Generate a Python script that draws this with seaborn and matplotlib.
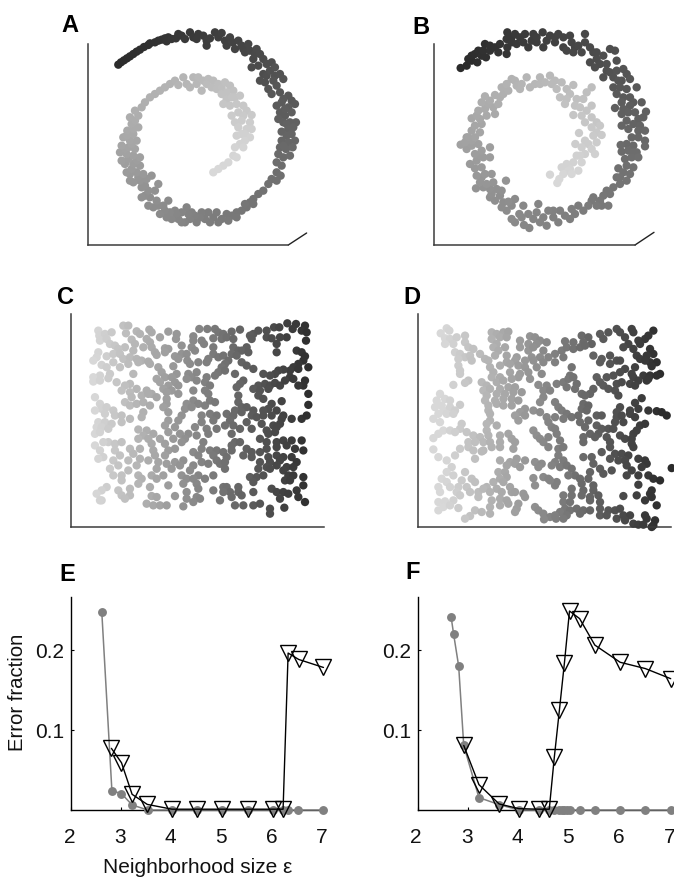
import matplotlib
matplotlib.use("Agg")
import matplotlib.pyplot as plt
from matplotlib.colors import LinearSegmentedColormap
from matplotlib.transforms import ScaledTranslation
import seaborn as sns

# spiral points, listed from the dark outer end to the light inner end
points_a = [(205,167),(213,160),(222,154),(231,148),(240,142),(250,135),(260,128),(270,122),(282,114),(295,108),(300,103),(315,100),(325,95),(335,92),(345,88),(355,85),(350,97),(365,90),(378,88),(385,75),(395,80),(405,90),(420,70),(430,85),(440,90),(445,75),(460,80),(470,95),(470,110),(480,88),(495,70),(505,85),(515,72),(525,95),(530,110),(540,85),(548,100),(555,120),(565,95),(575,110),(580,120),(585,130),(595,105),(600,125),(610,150),(615,135),(620,120),(630,135),(640,150),(605,175),(625,170),(640,195),(650,165),(665,160),(650,200),(630,215),(645,220),(660,185),(675,175),(675,200),(690,195),(700,210),(655,240),(670,215),(680,230),(690,250),(665,255),(715,260),(725,275),(735,285),(700,270),(680,290),(695,280),(715,295),(690,310),(705,320),(705,300),(725,310),(685,330),(700,340),(720,340),(738,340),(710,345),(715,360),(730,355),(695,368),(710,380),(725,375),(695,395),(715,400),(735,395),(690,415),(708,420),(700,410),(728,415),(685,435),(700,445),(720,440),(680,460),(695,470),(680,490),(692,500),(665,510),(680,515),(655,525),(640,545),(625,555),(610,570),(600,580),(610,585),(590,595),(585,585),(575,605),(560,610),(560,625),(545,620),(530,615),(535,635),(515,630),(505,640),(500,610),(490,625),(480,640),(475,610),(465,630),(455,610),(450,625),(440,640),(435,620),(425,610),(420,630),(415,615),(405,640),(410,595),(395,610),(395,640),(385,630),(380,615),(375,605),(365,630),(360,610),(350,625),(345,605),(330,615),(355,575),(340,590),(325,590),(310,595),(295,590),(320,575),(300,565),(285,560),(275,565),(315,545),(295,545),(285,530),(275,535),(325,525),(305,500),(290,510),(270,515),(265,505),(250,520),(240,515),(280,495),(260,490),(240,495),(230,490),(245,480),(270,470),(250,465),(225,465),(260,455),(235,450),(215,455),(270,445),(250,440),(230,435),(210,430),(225,420),(255,420),(235,415),(215,410),(245,405),(260,395),(240,395),(220,385),(230,380),(250,375),(232,365),(250,360),(265,355),(245,345),(255,335),(240,325),(265,320),(255,305),(275,295),(285,280),(300,265),(315,255),(330,245),(345,235),(360,225),(375,215),(385,228),(400,205),(410,225),(430,205),(420,235),(440,225),(455,245),(445,205),(460,215),(475,210),(470,225),(490,215),(485,235),(500,240),(505,225),(515,235),(525,220),(540,230),(550,245),(530,250),(515,255),(530,270),(545,265),(555,265),(570,260),(520,285),(540,290),(560,285),(580,290),(590,305),(565,310),(605,318),(580,320),(545,320),(555,340),(575,335),(600,340),(565,355),(590,360),(605,360),(560,380),(575,375),(585,375),(600,385),(585,395),(570,405),(555,415),(580,415),(550,440),(560,445),(535,460),(520,470),(505,480),(490,490)]

points_b = [(182,177),(200,170),(205,150),(215,155),(215,140),(232,160),(225,135),(235,125),(245,140),(258,145),(255,105),(250,125),(270,125),(270,110),(285,115),(295,130),(300,105),(320,135),(322,115),(322,70),(320,90),(335,85),(335,100),(345,75),(350,105),(360,85),(370,100),(375,75),(385,115),(395,95),(400,75),(410,100),(410,85),(428,70),(430,115),(440,95),(450,80),(465,100),(465,85),(475,75),(490,85),(490,115),(510,80),(515,100),(525,115),(500,125),(520,130),(535,110),(555,75),(555,100),(545,130),(570,115),(580,130),(590,130),(570,160),(590,150),(600,165),(585,175),(610,140),(630,120),(645,125),(650,155),(620,165),(620,185),(630,190),(610,205),(640,205),(650,185),(670,180),(680,195),(665,215),(655,215),(690,210),(640,235),(660,235),(680,240),(710,235),(650,255),(670,265),(690,265),(700,280),(725,280),(690,290),(665,280),(645,297),(670,300),(665,315),(685,310),(705,310),(738,308),(730,325),(715,330),(680,335),(700,345),(720,350),(665,350),(685,360),(715,365),(735,365),(695,385),(715,385),(735,395),(680,405),(700,410),(735,412),(662,408),(665,428),(685,425),(710,430),(700,430),(675,450),(695,445),(715,445),(655,478),(680,470),(700,475),(670,490),(690,495),(650,505),(660,505),(680,515),(660,525),(640,535),(620,545),(630,555),(610,560),(600,575),(605,590),(580,565),(575,575),(590,590),(625,590),(565,590),(550,605),(535,590),(525,615),(515,600),(510,630),(495,620),(480,605),(475,640),(460,625),(460,605),(445,605),(440,650),(430,625),(420,640),(415,585),(410,610),(400,630),(388,657),(372,648),(385,615),(370,590),(365,625),(358,615),(345,640),(335,630),(345,570),(335,590),(320,605),(305,595),(310,580),(325,578),(300,560),(285,575),(270,565),(275,555),(290,540),(305,545),(270,540),(250,535),(228,538),(318,515),(280,520),(260,525),(240,520),(245,505),(275,495),(255,495),(230,500),(225,478),(245,475),(210,465),(230,455),(250,445),(270,445),(240,440),(225,435),(245,425),(270,415),(200,420),(215,410),(235,405),(182,407),(195,400),(215,395),(200,385),(205,385),(225,385),(215,365),(240,370),(225,350),(245,345),(215,328),(240,330),(230,320),(260,320),(285,315),(235,305),(255,300),(280,295),(265,285),(245,280),(270,275),(295,285),(255,262),(285,258),(300,265),(310,255),(305,235),(325,245),(335,210),(320,225),(345,215),(350,230),(360,240),(365,225),(380,205),(390,235),(405,225),(420,205),(420,225),(435,220),(450,200),(455,225),(465,215),(485,220),(470,240),(500,240),(520,228),(510,255),(575,235),(560,250),(480,265),(500,270),(530,270),(550,270),(495,285),(525,290),(540,295),(560,305),(575,290),(520,318),(545,320),(575,325),(590,340),(555,340),(575,355),(600,350),(590,370),(605,378),(580,380),(537,372),(555,395),(590,400),(565,405),(526,405),(545,415),(575,420),(555,435),(585,435),(530,440),(540,440),(520,460),(545,460),(500,465),(485,475),(510,480),(505,485),(535,485),(450,497),(490,495),(515,495),(478,510),(472,522)]

points_c = [(145,155),(148,170),(165,165),(185,160),(220,140),(235,140),(228,163),(260,157),(270,165),(298,152),(305,160),(355,158),(380,165),(448,150),(430,172),(472,150),(495,150),(505,160),(520,165),(545,158),(570,152),(610,165),(625,155),(650,155),(672,145),(688,145),(712,133),(738,135),(765,140),(728,150),(755,155),(770,160),(710,175),
    (150,185),(170,180),(180,195),(195,200),(245,182),(255,195),(290,180),(300,190),(330,175),(378,180),(430,185),(455,185),(462,195),(395,200),(490,178),(515,180),(530,175),(550,180),(600,170),(605,180),(650,175),(665,178),(690,175),(768,185),(680,195),(590,205),(490,205),(280,205),(225,205),(205,210),(345,208),(355,210),(305,205),
    (145,220),(140,235),(130,245),(170,232),(190,225),(210,225),(220,240),(240,235),(260,240),(250,215),(315,220),(320,228),(345,220),(375,232),(395,225),(410,225),(425,205),(435,215),(490,225),(505,235),(520,230),(550,205),(565,215),(575,215),(595,220),(545,225),(560,230),(475,240),(445,250),(412,245),(385,240),(740,215),(755,220),(680,220),(765,232),(760,245),(275,245),(295,248),(235,255),
    (155,258),(170,265),(210,265),(190,250),(265,250),(300,255),(325,265),(370,262),(420,255),(470,250),(535,245),(525,255),(575,250),(590,260),(515,265),(505,280),(525,275),(495,290),(610,270),(745,255),(730,265),(745,270),(720,275),(775,265),(700,272),(685,275),(675,285),(660,290),(640,285),(180,285),(150,290),(130,295),(130,308),(150,305),(175,298),(250,285),(335,280),(380,285),(415,285),(425,295),(440,280),(470,295),(555,285),
    (200,310),(240,315),(320,300),(345,295),(365,295),(375,310),(355,320),(385,320),(410,300),(440,305),(465,310),(480,320),(465,335),(330,310),(340,330),(225,320),(260,330),(215,335),(240,340),(290,335),(305,345),(365,335),(350,340),(385,345),(430,335),(475,345),(580,305),(570,315),(560,325),(625,320),(645,315),(660,320),(675,312),(690,320),(610,330),(630,335),(655,330),(625,350),(720,295),(730,300),(705,305),(765,305),(760,320),(775,345),(745,320),
    (135,355),(245,355),(275,350),(295,345),(320,355),(350,360),(225,370),(240,380),(260,375),(280,370),(300,380),(350,375),(340,385),(430,365),(445,375),(410,375),(405,390),(425,385),(465,380),(480,365),(495,370),(565,350),(565,370),(575,385),(555,395),(590,385),(640,360),(665,375),(695,367),(655,390),(680,395),(775,378),(150,375),(155,390),(135,395),(170,385),(190,395),(610,395),(640,395),
    (165,405),(195,410),(215,410),(240,420),(280,400),(275,415),(355,400),(395,410),(455,410),(480,405),(500,410),(530,405),(550,410),(575,400),(605,410),(620,415),(640,410),(665,410),(700,410),(725,420),(695,420),(755,420),(770,410),(145,430),(165,430),(185,435),(215,430),(355,425),(385,425),(455,430),(490,425),(540,425),(590,430),(635,435),(690,435),(670,440),(140,445),(155,445),(175,450),(265,452),(290,455),(345,440),(375,445),(435,445),(470,450),(500,450),(525,440),(550,440),(570,450),(605,450),(650,455),(680,445),
    (135,465),(150,460),(280,470),(310,465),(355,460),(390,465),(415,465),(475,465),(545,465),(655,465),(675,460),(265,480),(295,480),(330,480),(370,480),(405,480),(440,470),(460,490),(630,480),(650,490),(680,490),(700,485),(725,485),(755,485),(175,490),(195,495),(215,490),(160,490),(305,495),(345,495),(395,490),(555,490),(570,490),(545,500),(680,505),(710,500),(135,500),
    (150,515),(195,515),(240,510),(270,510),(250,525),(310,515),(355,515),(375,510),(430,520),(455,510),(480,515),(500,515),(520,520),(545,515),(590,510),(605,520),(630,520),(650,510),(760,515),(735,510),(160,535),(210,530),(270,540),(315,530),(345,530),(445,530),(490,530),(530,535),(580,530),(605,535),(655,535),(680,530),(700,535),(725,535),(145,540),(190,545),(235,545),(295,545),(325,550),(375,550),(400,545),(455,550),(500,545),(510,555),(630,550),(660,550),(690,545),(740,550),
    (205,560),(260,560),(350,555),(390,560),(430,560),(475,555),(525,550),(650,565),(680,560),(710,565),(730,565),(180,570),(235,575),(320,570),(365,570),(420,575),(525,570),(625,570),(700,575),(660,570),(190,590),(215,590),(265,590),(305,590),(340,590),(395,590),(445,590),(490,590),(600,595),(620,595),(640,590),(715,590),(760,595),(730,590),(275,600),(215,605),(320,600),(410,600),(430,600),(465,600),
    (265,615),(355,620),(400,615),(440,615),(520,625),(530,625),(565,625),(610,610),(705,605),(720,605),(760,620),(170,625),(155,635),(205,635),(240,630),(300,625),(445,630),(490,635),(540,640),(565,640),(610,640),(665,630),(680,640),(700,640),(740,635),(140,645),(215,650),(240,650),(410,640),(520,640),
    (155,665),(225,660),(305,652),(320,655),(375,652),(410,660),(440,655),(450,660),(510,665),(545,655),(575,650),(690,660),(715,645),(745,655),(150,665),(290,675),(310,680),(330,680),(350,680),(400,683),(555,680),(580,680),(610,680),(630,675),(660,690),(660,705),(703,687),(765,670),(430,670)]

points_d = [(140,148),(148,155),(122,163),(135,178),(150,180),(170,175),(195,170),(135,195),(160,195),(195,190),(275,160),(290,165),(310,160),(325,158),(275,180),(300,175),(320,175),(360,185),(390,172),(405,175),(420,185),(440,190),(385,195),(410,195),(495,187),(520,190),(545,170),(565,175),(550,190),(575,195),(600,165),(625,160),(610,180),(650,150),(660,160),(695,150),(700,160),(675,175),(715,185),(735,180),(760,155),(745,170),(685,195),(720,195),
    (205,205),(220,210),(290,195),(315,205),(280,205),(295,215),(360,205),(385,215),(400,205),(430,215),(465,225),(485,215),(500,205),(520,210),(540,205),(555,200),(670,205),(700,210),(750,210),(760,225),(165,220),(180,225),(195,235),(210,230),(240,225),(255,240),(285,230),(320,230),(350,235),(395,235),(420,235),(445,235),(465,250),(490,235),(580,230),(605,240),(630,230),(650,245),(660,245),(710,230),(740,230),(175,240),(215,245),(265,245),(320,250),(345,245),(375,245),(400,245),(430,250),(720,240),(750,250),(770,250),
    (175,260),(180,275),(270,265),(300,260),(330,255),(355,260),(375,265),(410,265),(515,265),(600,250),(630,255),(735,245),(705,265),(755,262),(280,280),(330,280),(360,285),(385,280),(425,285),(675,270),(660,280),(640,290),(620,295),(695,285),(730,290),(750,290),(780,285),(180,285),(275,295),(300,295),(355,295),(510,290),(590,295),(700,295),(715,305),(745,300),(770,290),
    (205,305),(195,312),(245,310),(260,320),(290,310),(310,305),(335,300),(390,300),(415,318),(440,320),(470,315),(490,310),(505,300),(520,295),(530,315),(160,318),(600,310),(610,320),(650,315),(665,310),(690,315),(705,320),(740,305),(250,335),(270,330),(300,330),(325,325),(345,325),(365,340),(430,335),(450,335),(500,325),(525,330),(545,345),(580,330),(625,330),(645,335),(260,350),(290,345),(315,345),(340,340),(120,345),(570,345),(555,350),(655,350),(430,355),(420,370),
    (110,365),(135,360),(150,365),(255,365),(285,365),(310,360),(335,360),(355,365),(465,370),(550,375),(565,380),(725,358),(705,372),(180,378),(125,380),(105,385),(130,395),(150,385),(165,395),(265,380),(290,375),(310,380),(335,380),(375,390),(400,395),(475,385),(485,395),(545,390),(560,395),(660,385),(650,400),(690,395),(715,390),(745,395),(770,397),(785,400),(265,395),(360,400),(420,400),
    (115,405),(140,405),(160,405),(100,420),(120,430),(270,405),(345,410),(375,410),(440,415),(465,415),(500,405),(515,415),(535,410),(590,410),(605,410),(650,415),(665,410),(690,405),(705,415),(800,410),(270,425),(290,440),(355,425),(260,435),(445,430),(490,420),(540,430),(565,425),(645,430),(670,430),(720,440),(735,435),(185,435),(180,450),(455,445),(465,450),(555,445),(590,440),(605,450),(625,450),(640,450),
    (130,455),(150,455),(115,465),(100,478),(165,460),(200,460),(220,470),(240,475),(260,455),(265,470),(400,455),(410,470),(470,465),(570,465),(595,465),(550,475),(660,470),(700,465),(710,455),(300,470),(325,465),(335,480),(345,490),(205,490),(225,490),(250,490),(270,490),(300,490),(420,480),(430,490),(445,475),(480,485),(550,490),(585,475),(620,475),(630,490),(675,480),(695,480),(695,495),
    (205,505),(180,510),(220,515),(250,515),(275,505),(300,505),(340,510),(445,505),(475,510),(490,505),(605,520),(630,505),(700,505),(100,512),(225,540),(245,518),(645,525),(665,525),(685,530),(655,545),(715,540),(735,545),(115,535),(140,545),(165,530),(300,545),(330,550),(350,540),(375,545),(475,530),(465,550),(490,545),(550,535),(575,535),(630,540),(740,555),(675,545),
    (155,565),(140,580),(320,560),(345,555),(360,565),(405,550),(425,555),(415,565),(455,560),(480,565),(500,560),(515,570),(580,555),(600,570),(680,560),(725,565),(695,575),(815,568),(635,575),(525,590),(160,590),(125,600),(195,580),(295,580),(315,580),(320,595),(505,590),(570,580),(610,585),(680,590),(715,590),(745,590),(760,600),(780,605),(540,600),(565,600),(400,598),(430,595),(445,600),
    (140,610),(185,605),(215,600),(225,610),(280,610),(300,600),(310,610),(330,625),(405,620),(465,620),(470,610),(545,615),(580,620),(715,618),(755,635),(115,625),(150,625),(175,625),(200,625),(260,625),(290,630),(450,605),(515,630),(550,635),(580,635),(120,640),(170,640),(210,640),(235,640),(250,630),(270,640),(305,640),(335,640),(345,640),(370,645),(750,645),(490,650),(515,650),
    (180,650),(235,655),(375,655),(545,650),(570,655),(595,650),(670,652),(710,650),(755,655),(115,670),(135,668),(160,665),(275,665),(300,660),(320,665),(490,670),(510,670),(570,665),(600,670),(735,665),(115,695),(130,685),(150,680),(175,688),(225,695),(245,700),(270,685),(300,680),(325,675),(355,675),(350,690),(345,700),(405,685),(415,695),(495,690),(510,695),(530,690),(550,695),(570,695),(600,690),(625,695),(645,695),(660,690),(770,680),(210,712),(195,720),(270,705),(480,700),(500,710),
    (430,705),(450,715),(465,710),(432,722),(468,720),(490,720),(540,705),(600,710),(620,710),(650,720),(670,710),(690,710),(735,710),(740,720),(765,725),(675,725),(700,735),(715,738),(730,738),(760,740),(755,745)]

# error fraction curves
e_circle_x = [2.61, 2.81, 3.0, 3.21, 3.52, 4.0, 4.5, 5.0, 5.5, 6.0, 6.2, 6.3, 6.5, 7.0]
e_circle_y = [0.247, 0.024, 0.0205, 0.0063, 0, 0, 0, 0, 0, 0, 0, 0, 0, 0]
e_tri_x = [2.8, 3.0, 3.21, 3.51, 4.0, 4.5, 5.0, 5.5, 6.0, 6.2, 6.3, 6.51, 7.0]
e_tri_y = [0.077, 0.059, 0.0196, 0.007, 0.001, 0.001, 0.001, 0.001, 0.001, 0.001, 0.196, 0.188, 0.178]

f_circle_x = [2.66, 2.71, 2.81, 2.91, 3.21, 3.61, 4.0, 4.4, 4.6, 4.7, 4.8, 4.85, 4.9, 4.95, 5.0, 5.2, 5.5, 6.0, 6.5, 7.0]
f_circle_y = [0.2413, 0.2196, 0.1795, 0.0806, 0.0155, 0.0067, 0, 0, 0, 0, 0, 0, 0, 0, 0, 0, 0, 0, 0, 0]
f_tri_x = [2.91, 3.21, 3.61, 4.0, 4.4, 4.6, 4.7, 4.8, 4.9, 5.0, 5.2, 5.5, 6.0, 6.5, 7.0]
f_tri_y = [0.0806, 0.0317, 0.0075, 0.0017, 0.001, 0.001, 0.066, 0.1245, 0.184, 0.2485, 0.239, 0.206, 0.1845, 0.1766, 0.164]

x_ticks = [2, 3, 4, 5, 6, 7]
y_ticks = [0.1, 0.2]

W, H = 674, 878
GREY = "#808080"
AXIS = "#3c3c3c"

sns.set_theme(style="white")
plt.rcParams["font.family"] = ["Liberation Sans", "DejaVu Sans"]

fig = plt.figure(figsize=(W / 100, H / 100), dpi=100)
cmap = LinearSegmentedColormap.from_list("shade", ["#2b2b2b", "#d8d8d8"])
cmap_r = cmap.reversed()


def make_axes(left, top, right, bottom):
    # box given in reference pixels
    ax = fig.add_axes([left / W, 1 - bottom / H, (right - left) / W, (bottom - top) / H])
    ax.patch.set_alpha(0)
    return ax


def dots(ax, points, shade, cm, lims):
    xs = [p[0] for p in points]
    ys = [p[1] for p in points]
    sns.scatterplot(x=xs, y=ys, hue=shade, palette=cm, hue_norm=lims, legend=False,
                    s=36, linewidth=0, clip_on=False, ax=ax)
    ax.set(xticks=[], yticks=[])
    sns.despine(ax=ax)
    for side in ["left", "bottom"]:
        ax.spines[side].set_color(AXIS)
        ax.spines[side].set_linewidth(1.1)


def spiral_panel(box, points, xlim, x_end, corner):
    ax = make_axes(*box)
    dots(ax, points, list(range(len(points))), cmap, (0, len(points) - 1))
    ax.set_xlim(*xlim)
    ax.set_ylim(708, 105)
    ax.spines["bottom"].set_bounds(xlim[0], x_end)
    ax.plot([x_end, corner[0]], [708, corner[1]], color="#222222", lw=1, clip_on=False)


def flat_panel(box, points, xlim, ylim):
    ax = make_axes(*box)
    dots(ax, points, [p[0] for p in points], cmap_r, (130, 790))
    ax.set_xlim(*xlim)
    ax.set_ylim(*ylim)


def error_panel(box, cx, cy, tx, ty, xmax):
    ax = make_axes(*box)
    # white triangles below, grey circles over them, triangle outlines on top
    sns.lineplot(x=tx, y=ty, color="white", estimator=None, sort=False, ax=ax)
    under = ax.lines[-1]
    under.set(marker="v", markersize=11, markerfacecolor="white", markeredgewidth=0,
              linewidth=0, clip_on=False, zorder=4)
    sns.lineplot(x=cx, y=cy, color=GREY, estimator=None, sort=False, ax=ax)
    grey = ax.lines[-1]
    grey.set(marker="o", markersize=6.4, markerfacecolor=GREY, markeredgewidth=0,
             linewidth=1.1, clip_on=False, zorder=5)
    sns.lineplot(x=tx, y=ty, color="black", estimator=None, sort=False, ax=ax)
    outline = ax.lines[-1]
    outline.set(marker="v", markersize=11, markerfacecolor="none", markeredgecolor="black",
                markeredgewidth=1, linewidth=1, clip_on=False, zorder=6)
    ax.set_xlim(2, xmax)
    ax.set_ylim(0, 0.266)
    ax.set_xticks(x_ticks)
    ax.set_yticks(y_ticks)
    ax.set_yticklabels(["0.1", "0.2"])
    ax.tick_params(axis="both", direction="in", length=2.5, width=0.8, color="black",
                   labelsize=15, labelcolor="#111111", bottom=True, left=True)
    ax.tick_params(axis="x", pad=12)
    ax.tick_params(axis="y", pad=5)
    shift = ScaledTranslation(-1.5 / 100, 0, fig.dpi_scale_trans)
    for lab in ax.get_xticklabels():
        lab.set_transform(lab.get_transform() + shift)
    sns.despine(ax=ax)
    for side in ["left", "bottom"]:
        ax.spines[side].set_color("black")
        ax.spines[side].set_linewidth(1)
    return ax


spiral_panel((88.3, 45, 307.3, 246), points_a, (115, 772), 715, (770, 672))
spiral_panel((434.3, 45, 654, 246), points_b, (103, 762), 705, (762, 670))
flat_panel((71.3, 315, 324, 528), points_c, (64, 822), (745, 105))
flat_panel((417.7, 315, 670.7, 528), points_d, (53, 812), (745, 105))

error_panel((71, 598, 326, 811), e_circle_x, e_circle_y, e_tri_x, e_tri_y, 7.05)
error_panel((417.7, 598, 670.7, 811), f_circle_x, f_circle_y, f_tri_x, f_tri_y, 7)

for letter, px, py in [("A", 70, 26), ("B", 421, 27), ("C", 66, 297), ("D", 412, 297), ("E", 67, 575), ("F", 413, 573)]:
    fig.text(px / W, 1 - py / H, letter, fontsize=17, fontweight="bold", color="black",
             ha="center", va="center")

fig.text(18 / W, 1 - 692 / H, "Error fraction", rotation=90, fontsize=14.6, color="#111111",
         ha="center", va="center")
fig.text(198 / W, 1 - 868 / H, "Neighborhood size ε", fontsize=15, color="#111111",
         ha="center", va="center")

fig.savefig("out.png", dpi=100)
